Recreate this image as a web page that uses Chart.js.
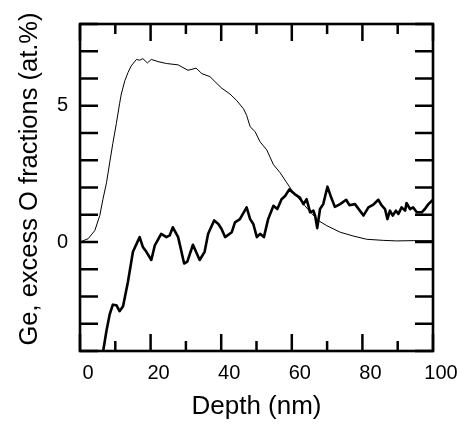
<!DOCTYPE html>
<html><head><meta charset="utf-8">
<script src="https://cdn.jsdelivr.net/npm/chart.js@4/dist/chart.umd.min.js"></script>
<style>html,body{margin:0;padding:0;background:#fff}canvas{display:block}</style>
</head><body>
<canvas id="c" width="467" height="429"></canvas>
<script>
// Ge fraction (thin line)
const depthGe = [0, 2.3, 4.2, 5.6, 6.5, 7.5, 8.4, 9.3, 10.3, 11.2, 11.7, 12.7, 13.6, 14.5, 16.0, 16.9, 17.8, 19.1, 20.2, 22.1, 24.5, 27.8, 30.6, 32.9, 34.5, 36.8, 38.2, 40.1, 42.5, 44.4, 46.3, 47.2, 48.2, 49.6, 51.0, 52.9, 54.8, 56.7, 58.6, 60.0, 61.8, 63.7, 65.6, 67.5, 69.9, 73.7, 77.4, 81.2, 85.9, 89.7, 94.4, 100];
const geFraction = [0, 0.12, 0.42, 0.97, 1.57, 2.17, 2.9, 3.62, 4.35, 5.07, 5.43, 5.92, 6.22, 6.46, 6.7, 6.67, 6.73, 6.57, 6.7, 6.62, 6.55, 6.5, 6.3, 6.38, 6.18, 6.07, 5.89, 5.65, 5.43, 5.19, 4.89, 4.65, 4.23, 4.05, 3.68, 3.38, 2.84, 2.54, 2.17, 1.9, 1.62, 1.33, 1.05, 0.79, 0.6, 0.36, 0.22, 0.1, 0.06, 0.04, 0.05, 0.05];
// Excess O fraction (thick line)
const depthO = [6.5, 7.5, 8.4, 9.3, 10.3, 11.2, 12.2, 13.6, 15.0, 16.9, 17.8, 18.8, 20.2, 21.2, 23.0, 24.5, 25.4, 26.3, 27.8, 29.5, 30.4, 32.0, 33.9, 35.3, 36.3, 38.0, 39.2, 40.1, 41.1, 43.0, 43.9, 45.3, 47.2, 48.2, 49.1, 50.1, 51.0, 52.1, 53.3, 54.8, 55.9, 57.1, 58.1, 59.3, 60.9, 62.3, 63.3, 64.2, 65.2, 66.1, 66.6, 67.2, 68.0, 68.9, 70.1, 71.0, 72.2, 73.7, 75.4, 76.3, 77.9, 80.3, 81.7, 83.1, 84.5, 85.4, 86.4, 87.1, 87.8, 88.6, 89.5, 90.2, 91.1, 92.1, 92.5, 93.5, 94.4, 95.4, 96.8, 97.7, 98.7, 100];
const excessO = [-4.05, -3.26, -2.66, -2.3, -2.32, -2.54, -2.36, -1.45, -0.36, 0.18, -0.18, -0.36, -0.66, -0.12, 0.3, 0.18, 0.24, 0.54, 0.18, -0.79, -0.72, -0.1, -0.66, -0.36, 0.3, 0.79, 0.66, 0.48, 0.18, 0.36, 0.72, 0.84, 1.27, 0.84, 0.66, 0.18, 0.3, 0.18, 0.84, 1.33, 1.21, 1.57, 1.69, 1.93, 1.75, 1.63, 1.39, 1.57, 1.09, 1.15, 0.97, 0.51, 1.21, 1.39, 2.03, 1.69, 1.29, 1.39, 1.55, 1.35, 1.39, 0.97, 1.27, 1.37, 1.55, 1.35, 1.21, 0.84, 1.15, 0.97, 1.15, 1.03, 1.27, 1.15, 1.43, 1.21, 1.27, 1.09, 1.09, 1.21, 1.39, 1.55];
const xTickLabels = [0, 20, 40, 60, 80, 100];
const yTickLabels = [0, 5];
const xTitle = 'Depth (nm)';
const yTitle = 'Ge, excess O fractions (at.%)';

const toPts = (xs, ys) => xs.map((x, i) => ({x: x, y: ys[i]}));
const FONT = 'Liberation Sans, Arial, Helvetica, sans-serif';

const framePlugin = {
  id: 'frame',
  afterDraw(chart) {
    const {ctx, chartArea: a, scales: {x, y}} = chart;
    ctx.save();
    ctx.strokeStyle = '#000';
    ctx.lineWidth = 2.5;
    const line = (x1, y1, x2, y2) => { ctx.beginPath(); ctx.moveTo(x1, y1); ctx.lineTo(x2, y2); ctx.stroke(); };
    x.ticks.forEach(t => {
      const px = x.getPixelForValue(t.value);
      const len = xTickLabels.includes(t.value) ? 17 : 10;
      line(px, a.bottom, px, a.bottom - len);
      line(px, a.top, px, a.top + len);
    });
    y.ticks.forEach(t => {
      const py = y.getPixelForValue(t.value);
      line(a.left, py, a.left + 18, py);
      line(a.right, py, a.right - 18, py);
    });
    ctx.lineWidth = 2.6;
    ctx.strokeRect(a.left, a.top, a.right - a.left, a.bottom - a.top);
    // y-axis title, rotated
    ctx.fillStyle = '#000';
    ctx.font = '25.5px ' + FONT;
    ctx.textAlign = 'center';
    ctx.textBaseline = 'middle';
    ctx.translate(y.left + 30, (a.top + a.bottom) / 2 - 8.5);
    ctx.rotate(-Math.PI / 2);
    ctx.fillText(yTitle, 0, 0);
    ctx.restore();
  }
};

new Chart(document.getElementById('c'), {
  type: 'scatter',
  data: {
    datasets: [
      {label: 'Ge', data: toPts(depthGe, geFraction), showLine: true, borderColor: '#000', borderWidth: 1, pointRadius: 0, tension: 0},
      {label: 'excess O', data: toPts(depthO, excessO), showLine: true, borderColor: '#000', borderWidth: 2.6, pointRadius: 0, tension: 0, borderJoinStyle: 'round'}
    ]
  },
  options: {
    responsive: false,
    animation: false,
    devicePixelRatio: 1,
    layout: {padding: {top: 19, right: 34, left: 0, bottom: 0}},
    plugins: {legend: {display: false}, tooltip: {enabled: false}},
    scales: {
      x: {
        type: 'linear', min: 0, max: 100,
        grid: {display: false, drawTicks: false},
        border: {display: false},
        ticks: {stepSize: 10, autoSkip: false, maxRotation: 0, padding: 10, labelOffset: 8,
          color: '#000', font: {family: FONT, size: 20},
          callback: v => xTickLabels.includes(v) ? String(v) : ''},
        title: {display: true, text: xTitle, color: '#000', font: {family: FONT, size: 26}, padding: {top: 0, bottom: 7}},
        afterFit: s => { s.height = 78; }
      },
      y: {
        type: 'linear', min: -4, max: 8,
        grid: {display: false, drawTicks: false},
        border: {display: false},
        ticks: {stepSize: 1, autoSkip: false, padding: 12,
          color: '#000', font: {family: FONT, size: 20},
          callback: v => yTickLabels.includes(v) ? String(v) : ''},
        title: {display: false, text: yTitle},
        afterFit: s => { s.width = 80; }
      }
    }
  },
  plugins: [framePlugin]
});
</script>
</body></html>
